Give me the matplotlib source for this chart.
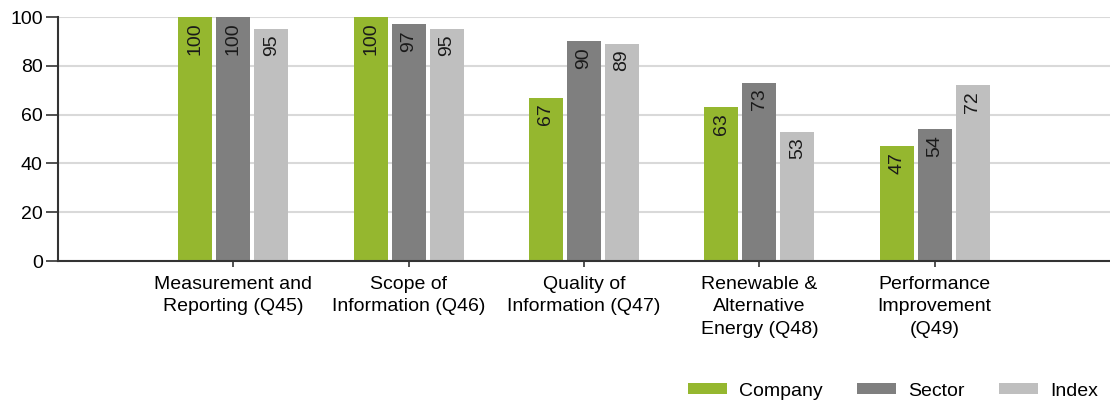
import numpy as np
import matplotlib
matplotlib.use("Agg")
import matplotlib.pyplot as plt

plt.rcParams['font.family'] = ['Liberation Sans', 'DejaVu Sans']

categories = ['Measurement and\nReporting (Q45)', 'Scope of\nInformation (Q46)',
              'Quality of\nInformation (Q47)', 'Renewable &\nAlternative\nEnergy (Q48)',
              'Performance\nImprovement\n(Q49)']
company = [100, 100, 67, 63, 47]
sector = [100, 97, 90, 73, 54]
index = [95, 95, 89, 53, 72]
series_names = ['Company', 'Sector', 'Index']
colors = ['#95b72f', '#7f7f7f', '#bfbfbf']

fig = plt.figure(figsize=(11.1, 4.01), dpi=100)
ax = fig.add_axes([58/1110, 140/401, 1 - 58/1110, 244/401])

x = np.arange(1, len(categories) + 1)
step = 0.217
width = 0.195
for k, (vals, name, col) in enumerate(zip([company, sector, index], series_names, colors)):
    pos = x + (k - 1) * step
    bars = ax.bar(pos, vals, width=width, color=col, label=name, zorder=3)
    for b, v in zip(bars, vals):
        ax.annotate(str(v), (b.get_x() + b.get_width() / 2, v), xytext=(0, -4),
                    textcoords='offset points', rotation=90, ha='center', va='top',
                    fontsize=14, color='#1a1a1a', zorder=4)

ax.set_xlim(0, 6)
ax.set_ylim(0, 100)
ax.set_yticks(range(0, 101, 20))
ax.set_xticks(x)
ax.set_xticklabels(categories, fontsize=14, linespacing=1.4)
ax.tick_params(axis='y', labelsize=14, length=9, width=1.2, pad=2, color='#333333')
ax.tick_params(axis='x', length=4, width=1.2, pad=7, color='#333333')
ax.grid(axis='y', color='#d9d9d9', linewidth=1.5, zorder=0)
for s in ['top', 'right']:
    ax.spines[s].set_visible(False)
for s in ['left', 'bottom']:
    ax.spines[s].set_linewidth(1.5)
    ax.spines[s].set_color('#333333')
    ax.spines[s].set_zorder(5)

fig.legend(loc='center', bbox_to_anchor=(893/1110, 1 - 391/401), ncol=3, frameon=False,
           fontsize=14, handlelength=2.0, handleheight=0.5, columnspacing=1.8,
           handletextpad=0.6)

fig.savefig('out.png', dpi=100)
